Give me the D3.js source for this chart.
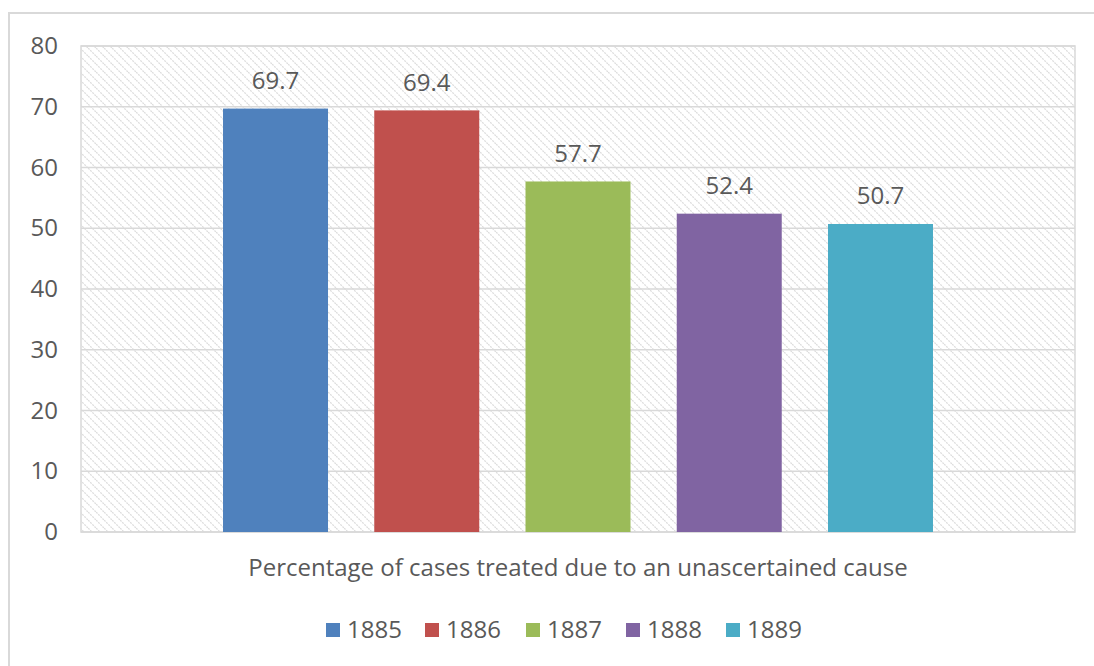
<!DOCTYPE html>
<html>
<head>
<meta charset="utf-8">
<script src="https://cdn.jsdelivr.net/npm/d3@7"></script>
<style>
  body { margin: 0; background: #fff; }
  svg { display: block; }
  text { font-family: "Open Sans", "DejaVu Sans", sans-serif; fill: #595959; }
</style>
</head>
<body>
<svg id="chart" width="1094" height="666"></svg>
<script>
const categories = ["Percentage of cases treated due to an unascertained cause"];
const years = ["1885", "1886", "1887", "1888", "1889"];
const values = [69.7, 69.4, 57.7, 52.4, 50.7];
const colors = ["#4F81BD", "#C0504D", "#9BBB59", "#8064A2", "#4BACC6"];
const yTicks = [0, 10, 20, 30, 40, 50, 60, 70, 80];

const svg = d3.select("#chart");
const plot = { left: 81, right: 1075, top: 46, bottom: 532 };

// outer frame (left and top edges visible)
svg.append("path")
  .attr("d", "M9,666 L9,13 L1094,13")
  .attr("fill", "none")
  .attr("stroke", "#d9d9d9")
  .attr("stroke-width", 2);

// hatch pattern
const defs = svg.append("defs");
const pat = defs.append("pattern")
  .attr("id", "hatch")
  .attr("patternUnits", "userSpaceOnUse")
  .attr("width", 8).attr("height", 8);
pat.append("rect").attr("width", 8).attr("height", 8).attr("fill", "#fff");
pat.append("path")
  .attr("d", "M-2,-2 L10,10 M-2,6 L2,10 M6,-2 L10,2")
  .attr("stroke", "#dcdcdc")
  .attr("stroke-width", 1.2)
  .attr("stroke-dasharray", "2,1");

const y = d3.scaleLinear().domain([0, 80]).range([plot.bottom, plot.top]);
const x = d3.scaleBand().domain(years).range([plot.left, plot.right])
  .paddingInner(0.3058).paddingOuter(0.939);

svg.append("rect")
  .attr("x", plot.left).attr("y", plot.top)
  .attr("width", plot.right - plot.left).attr("height", plot.bottom - plot.top)
  .attr("fill", "url(#hatch)")
  .attr("stroke", "#d9d9d9").attr("stroke-width", 1.5);

// gridlines
svg.append("g").selectAll("line").data(yTicks).join("line")
  .attr("x1", plot.left).attr("x2", plot.right)
  .attr("y1", d => y(d)).attr("y2", d => y(d))
  .attr("stroke", "#d9d9d9").attr("stroke-width", 1.5);

// y axis labels
const yAxis = d3.axisLeft(y).tickValues(yTicks).tickSize(0).tickPadding(0);
const gy = svg.append("g").attr("transform", `translate(58,0)`).call(yAxis);
gy.select(".domain").remove();
gy.selectAll("text").style("font-size", "24px").attr("fill", "#595959")
  .style("font-family", '"Open Sans", sans-serif');

// bars
svg.append("g").selectAll("rect").data(years).join("rect")
  .attr("x", d => x(d))
  .attr("width", x.bandwidth())
  .attr("y", (d, i) => y(values[i]))
  .attr("height", (d, i) => y(0) - y(values[i]))
  .attr("fill", (d, i) => colors[i]);

// data labels
svg.append("g").selectAll("text").data(years).join("text")
  .attr("x", d => x(d) + x.bandwidth() / 2)
  .attr("y", (d, i) => y(values[i]) - 28)
  .attr("dy", "0.35em")
  .attr("text-anchor", "middle")
  .style("font-size", "24px")
  .text((d, i) => values[i].toFixed(1));

// category label
svg.append("text")
  .attr("x", (plot.left + plot.right) / 2)
  .attr("y", 568)
  .attr("dy", "0.35em")
  .attr("text-anchor", "middle")
  .style("font-size", "24px")
  .text(categories[0]);

// legend
const legendX = d3.scaleOrdinal().domain(years).range([326, 425, 526, 626, 726]);
const lg = svg.append("g").selectAll("g").data(years).join("g")
  .attr("transform", d => `translate(${legendX(d)},630)`);
lg.append("rect").attr("x", 0).attr("y", -7).attr("width", 14).attr("height", 14)
  .attr("fill", (d, i) => colors[i]);
lg.append("text").attr("x", 21).attr("y", 0).attr("dy", "0.35em")
  .style("font-size", "24px").text(d => d);
</script>
</body>
</html>
